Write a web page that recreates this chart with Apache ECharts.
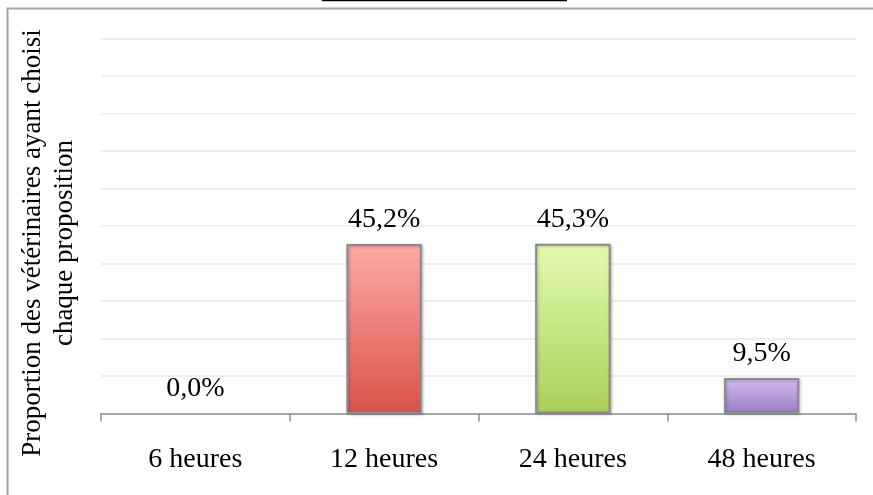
<!DOCTYPE html>
<html>
<head>
<meta charset="utf-8">
<script src="https://cdn.jsdelivr.net/npm/echarts@6/dist/echarts.min.js"></script>
<style>
  html, body { margin: 0; padding: 0; background: #fff; }
  #chart { width: 873px; height: 495px; }
</style>
</head>
<body>
<div id="chart"></div>
<script>
// Délai de réponse choisi par les vétérinaires
const categories = ['6 heures', '12 heures', '24 heures', '48 heures'];
const proportions = [0.0, 45.2, 45.3, 9.5];
const axisTitle = 'Proportion des vétérinaires ayant choisi\nchaque proposition';

// Dégradés des barres (haut, bas)
const barGradients = [
  ['#ffb0ac', '#d9544a'],
  ['#ffaaa6', '#d9534a'],
  ['#e3fbb1', '#abcf58'],
  ['#d2bcef', '#9a7dc3']
];

const FONT = '"Liberation Serif", "Times New Roman", serif';

function gradient(pair) {
  return new echarts.graphic.LinearGradient(0, 0, 0, 1, [
    { offset: 0, color: pair[0] },
    { offset: 1, color: pair[1] }
  ]);
}

const chart = echarts.init(document.getElementById('chart'), null, { renderer: 'canvas' });

chart.setOption({
  animation: false,
  backgroundColor: '#ffffff',
  grid: { left: 101, right: 17, top: 38.5, bottom: 81.5, containLabel: false },
  xAxis: {
    type: 'category',
    data: categories,
    axisLine: { lineStyle: { color: '#8e8e8e', width: 1.5 } },
    axisTick: { show: true, length: 8, lineStyle: { color: '#8e8e8e', width: 1.5 } },
    axisLabel: { color: '#000', fontFamily: FONT, fontSize: 28, margin: 32 }
  },
  yAxis: {
    type: 'value',
    min: 0,
    max: 100,
    interval: 10,
    axisLine: { show: false },
    axisTick: { show: false },
    axisLabel: { show: false },
    splitLine: { lineStyle: { color: '#efefef', width: 2 } }
  },
  series: [{
    type: 'bar',
    barWidth: '40%',
    data: proportions.map((v, i) => ({
      value: v,
      itemStyle: {
        color: gradient(barGradients[i]),
        borderColor: v > 0 ? '#8c8c8c' : 'transparent',
        borderWidth: 2,
        shadowColor: 'rgba(0,0,0,0.25)',
        shadowBlur: 3,
        shadowOffsetX: 1,
        shadowOffsetY: 1
      }
    })),
    label: {
      show: true,
      position: 'top',
      distance: 10,
      color: '#000',
      fontFamily: FONT,
      fontSize: 28,
      formatter: p => p.value.toFixed(1).replace('.', ',') + '%'
    }
  }],
  graphic: [
    {
      type: 'rect',
      z: -1,
      shape: { x: 7.5, y: 8.5, width: 1000, height: 600 },
      style: { fill: 'none', stroke: '#a3a3a3', lineWidth: 2 }
    },
    {
      type: 'line',
      shape: { x1: 322, y1: 0.5, x2: 567, y2: 0.5 },
      style: { stroke: '#000', lineWidth: 1.5 }
    },
    {
      type: 'text',
      x: 49,
      y: 243,
      rotation: Math.PI / 2,
      style: {
        text: axisTitle,
        fill: '#000',
        font: '27px ' + FONT,
        align: 'center',
        verticalAlign: 'middle',
        lineHeight: 32
      }
    }
  ]
});
</script>
</body>
</html>
